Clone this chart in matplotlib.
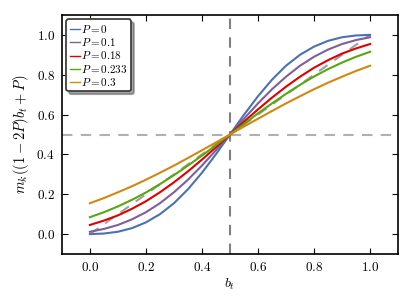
import numpy as np
import matplotlib
matplotlib.use("Agg")
import matplotlib.pyplot as plt

plt.rcParams['mathtext.fontset'] = 'cm'
plt.rcParams['font.family'] = 'serif'
plt.rcParams['font.serif'] = ['cmr10']
plt.rcParams['axes.formatter.use_mathtext'] = True

# b_t sample points
bt = [0.0, 0.05, 0.1, 0.15, 0.2, 0.25, 0.3, 0.35, 0.4, 0.45, 0.5,
      0.55, 0.6, 0.65, 0.7, 0.75, 0.8, 0.85, 0.9, 0.95, 1.0]

# curve values
m_p0 = [0.0, 0.003, 0.012, 0.030, 0.059, 0.100, 0.155, 0.225, 0.308, 0.401, 0.5,
        0.599, 0.692, 0.775, 0.845, 0.900, 0.941, 0.970, 0.988, 0.997, 1.0]
m_p01 = [0.012, 0.026, 0.046, 0.074, 0.110, 0.155, 0.210, 0.273, 0.344, 0.421, 0.5,
         0.579, 0.656, 0.727, 0.790, 0.845, 0.890, 0.926, 0.954, 0.974, 0.988]
m_p018 = [0.046, 0.068, 0.094, 0.127, 0.165, 0.210, 0.260, 0.315, 0.374, 0.436, 0.5,
          0.564, 0.626, 0.685, 0.740, 0.790, 0.835, 0.873, 0.906, 0.932, 0.954]
m_p0233 = [0.085, 0.110, 0.139, 0.172, 0.209, 0.251, 0.296, 0.344, 0.394, 0.447, 0.5,
           0.553, 0.606, 0.656, 0.704, 0.749, 0.791, 0.828, 0.861, 0.890, 0.915]
m_p03 = [0.155, 0.181, 0.210, 0.240, 0.273, 0.308, 0.344, 0.382, 0.421, 0.460, 0.5,
         0.540, 0.579, 0.618, 0.656, 0.692, 0.727, 0.760, 0.790, 0.819, 0.845]

labels = [r'$P=0$', r'$P=0.1$', r'$P=0.18$', r'$P=0.233$', r'$P=0.3$']
colors = ['#4a72b2', '#7e5f98', '#e00000', '#55a80f', '#d4870f']
series = [m_p0, m_p01, m_p018, m_p0233, m_p03]

fig = plt.figure(figsize=(4.07, 3.05), dpi=100)
ax = fig.add_axes([0.152, 0.167, 0.826, 0.784])

ax.plot([0, 1], [0, 1], '--', color='#a0a0a0', lw=1.5, dashes=(5, 4), zorder=1)
ax.axhline(0.5, ls='--', color='#b0b0b0', lw=1.5, dashes=(5, 4), zorder=1)
ax.axvline(0.5, ls='--', color='#808080', lw=1.5, dashes=(5, 4), zorder=1)

for y, c, lab in zip(series, colors, labels):
    ax.plot(bt, y, color=c, lw=1.5, label=lab, zorder=2)

ax.set_xlim(-0.1, 1.1)
ax.set_ylim(-0.1, 1.1)
ax.set_xticks([0, 0.2, 0.4, 0.6, 0.8, 1.0])
ax.set_yticks([0, 0.2, 0.4, 0.6, 0.8, 1.0])
ax.tick_params(direction='in', top=True, right=True, labelsize=9.5, length=4, pad=5)
for s in ax.spines.values():
    s.set_linewidth(1.2)

ax.set_xlabel(r'$b_t$', fontsize=10, labelpad=2)
ax.set_ylabel(r'$m_k((1-2P)b_t+P)$', fontsize=10.5)

leg = ax.legend(loc='upper left', fontsize=8, fancybox=True, shadow=True,
                handlelength=0.9, handletextpad=0.15, labelspacing=0.12,
                borderpad=0.3, borderaxespad=0.4, framealpha=1)
leg.get_frame().set_edgecolor('#404040')
leg.get_frame().set_linewidth(1.3)
for l in leg.get_lines():
    l.set_linewidth(1.0)

fig.savefig('out.png', dpi=100)
